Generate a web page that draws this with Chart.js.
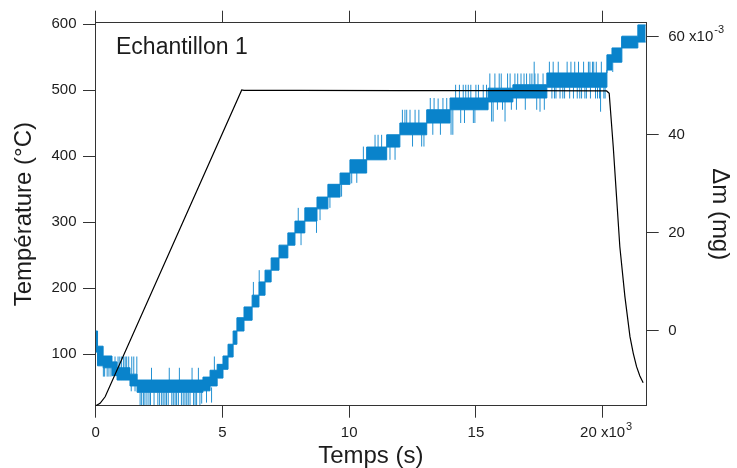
<!DOCTYPE html>
<html>
<head>
<meta charset="utf-8">
<script src="https://cdn.jsdelivr.net/npm/chart.js@4.4.0/dist/chart.umd.min.js"></script>
<style>
  html, body { margin: 0; padding: 0; background: #fff; }
  #wrap { width: 737px; height: 468px; }
</style>
</head>
<body>
<div id="wrap"><canvas id="myChart"></canvas></div>
<script>
// Tick values
const timeTicks = [0, 5, 10, 15, 20]
const tempTicks = [100, 200, 300, 400, 500, 600]
const massTicks = [0, 20, 40, 60]

// Temperature (°C) against time (x10^3 s)
const tempTime = [0, 0.17, 0.37, 5.76, 5.85, 8, 12, 16, 20.16, 20.26, 20.42, 20.55, 20.68, 20.88, 21.08, 21.21, 21.34, 21.47, 21.6]
const tempValue = [22, 25.6, 35.6, 500.5, 500, 500, 499.5, 499.5, 499, 495.5, 414.5, 338.8, 263, 187.3, 126.7, 101.5, 81.2, 67, 57]

// Mass change (x10^-3 mg): each level holds from its time to the next one
const massTime = [0, 0.07, 0.29, 0.64, 0.84, 1.35, 1.63, 4.23, 4.51, 4.79, 5.02, 5.22, 5.42, 5.57, 5.85, 6.17, 6.44, 6.68, 6.92, 7.23, 7.58, 7.86, 8.25, 8.73, 9.16, 9.64, 10.03, 10.69, 11.48, 12.0, 13.06, 13.98, 15.48, 16.46, 17.8, 20.17, 20.37, 20.76, 21.39, 21.7]
const massHigh = [0.0, -3.1, -5.1, -6.3, -7.5, -8.8, -10.0, -9.4, -8.0, -6.8, -5.1, -2.7, 0.0, 2.7, 4.9, 7.3, 10.0, 12.4, 14.9, 17.5, 20.0, 22.4, 25.1, 27.3, 29.9, 32.2, 34.9, 37.5, 40.0, 42.4, 45.1, 47.5, 49.5, 50.2, 52.6, 56.3, 57.7, 60.1, 62.4, 62.4]
const massLow = [-4.3, -7.1, -7.5, -9.1, -10.0, -11.2, -12.5, -12.2, -11.2, -9.6, -7.8, -5.3, -2.7, 0.0, 2.2, 4.9, 7.3, 10.0, 12.4, 14.9, 17.5, 20.0, 22.4, 24.9, 27.3, 29.9, 32.2, 34.9, 37.5, 40.0, 42.4, 45.1, 46.7, 47.5, 49.7, 53.2, 54.8, 57.7, 58.9, 58.9]

// Noise spikes on the mass signal: time, bottom, top
const spikeTime = [
  0.30, 0.35, 0.45, 0.52, 0.60, 0.70, 0.76, 0.88, 0.95, 1.02, 1.10, 1.16, 1.22, 1.30, 1.40, 1.42, 1.50, 1.55, 1.62,
  1.75, 1.81, 1.88, 1.94, 2.02, 2.10, 2.16, 2.20, 2.30, 2.45, 2.52, 2.60, 2.66, 2.73, 2.79, 2.86, 2.90, 3.00, 3.06,
  3.13, 3.19, 3.26, 3.30, 3.38, 3.45, 3.52, 3.59, 3.65, 3.72, 3.80, 3.86, 3.92, 3.98, 4.05, 4.11, 4.18, 4.37, 4.57, 4.68,
  6.22, 6.45, 7.99, 8.10, 8.71, 8.85, 9.24, 9.70, 10.10, 10.30, 10.56, 11.02, 11.14, 11.28, 11.61, 11.81,
  12.10, 12.20, 12.27, 12.40, 12.50, 12.60, 12.75, 12.86, 12.95, 13.20, 13.30, 13.35, 13.51, 13.60, 13.70, 13.85,
  14.02, 14.09, 14.20, 14.35, 14.40, 14.50, 14.55, 14.60, 14.70, 14.80, 14.90, 14.96, 15.00, 15.10, 15.29, 15.42,
  15.55, 15.62, 15.68, 15.75, 15.85, 15.92, 16.00, 16.05, 16.15, 16.25, 16.35, 16.40, 16.54, 16.60, 16.65, 16.78,
  16.90, 16.95, 17.00, 17.13, 17.21, 17.30, 17.33, 17.40, 17.45, 17.53, 17.65, 17.70,
  17.90, 18.00, 18.05, 18.10, 18.16, 18.25, 18.32, 18.43, 18.50, 18.60, 18.70, 18.75, 18.85, 18.90, 19.00,
  19.05, 19.10, 19.17, 19.25, 19.30, 19.36, 19.44, 19.50, 19.52, 19.60, 19.65, 19.72, 19.75, 19.80, 19.88,
  19.92, 19.95, 20.05, 20.10, 20.40, 20.75]
const spikeLow = [
  -9.3, -9.3, -9.3, -9.3, -9.3, -9.1, -7.5, -10.0, -10.0, -10.0, -10.0, -10.0, -10.0, -10.0, -12.3, -8.8, -8.8, -12.3, -10.0,
  -15.1, -15.1, -15.1, -15.1, -15.1, -15.1, -15.1, -10.0, -15.1, -15.1, -15.1, -15.1, -15.1, -15.1, -15.1, -15.1, -10.0, -15.1, -15.1,
  -15.1, -15.1, -15.1, -10.0, -15.1, -15.1, -15.1, -15.1, -15.1, -15.1, -10.0, -15.1, -15.1, -15.1, -10.0, -15.1, -14.8, -14.6, -14.6, -8.0,
  7.3, 10.0, 22.4, 17.5, 20.0, 22.6, 25.1, 27.4, 30.1, 30.2, 34.9, 37.5, 37.5, 37.5, 34.9, 34.9,
  42.4, 42.4, 42.4, 42.4, 37.6, 42.4, 42.4, 37.6, 37.6, 45.1, 40.0, 45.1, 45.1, 40.0, 45.1, 45.1,
  40.0, 40.0, 47.5, 47.5, 42.4, 47.5, 42.4, 47.5, 47.5, 47.5, 42.4, 42.4, 47.5, 47.5, 47.5, 47.5,
  49.5, 42.7, 42.7, 49.5, 45.1, 49.5, 49.5, 45.1, 42.7, 49.5, 49.5, 45.1, 50.2, 45.1, 50.2, 50.2,
  50.2, 45.1, 50.2, 50.2, 50.2, 50.2, 50.2, 45.1, 50.2, 44.7, 50.2, 45.1,
  52.6, 47.4, 52.6, 47.4, 47.4, 52.6, 47.4, 47.4, 47.4, 52.6, 47.4, 52.6, 47.4, 52.6, 47.4,
  52.6, 47.4, 47.4, 52.6, 47.4, 47.4, 52.6, 52.6, 47.4, 52.6, 52.6, 47.4, 52.6, 47.4, 47.4,
  44.7, 52.6, 47.4, 47.4, 52.8, 57.7]
const spikeHigh = [
  -7.5, -7.5, -7.5, -7.5, -7.5, -6.3, -5.2, -5.2, -5.2, -5.2, -5.2, -5.2, -5.2, -5.2, -11.2, -5.2, -5.2, -11.2, -5.2,
  -12.5, -12.5, -12.5, -12.5, -12.5, -12.5, -12.5, -7.5, -12.5, -12.5, -12.5, -12.5, -12.5, -12.5, -12.5, -12.5, -7.5, -12.5, -12.5,
  -12.5, -12.5, -12.5, -7.5, -12.5, -12.5, -12.5, -12.5, -12.5, -12.5, -7.5, -12.5, -12.5, -12.5, -7.5, -12.5, -12.5, -11.5, -11.5, -5.2,
  10.0, 12.4, 25.1, 20.0, 22.4, 24.9, 27.3, 29.9, 32.2, 32.2, 37.6, 40.0, 40.0, 40.0, 37.5, 37.5,
  45.1, 45.1, 45.1, 45.1, 40.0, 45.1, 45.1, 40.0, 40.0, 47.5, 42.4, 47.5, 47.4, 42.4, 47.5, 47.5,
  45.1, 45.1, 50.2, 50.2, 45.1, 50.2, 45.1, 50.2, 50.2, 50.2, 45.1, 45.1, 50.2, 50.2, 50.2, 50.2,
  52.5, 46.7, 46.7, 52.5, 46.7, 52.5, 52.5, 46.7, 46.7, 52.5, 52.5, 47.5, 52.5, 47.5, 52.5, 52.5,
  52.5, 47.5, 52.5, 52.5, 52.5, 54.9, 52.5, 47.5, 52.5, 47.5, 52.5, 47.5,
  54.9, 49.7, 54.9, 49.7, 49.7, 54.9, 49.7, 49.7, 49.7, 54.9, 49.7, 54.9, 49.7, 54.9, 49.7,
  54.9, 49.7, 49.7, 54.9, 49.7, 49.7, 54.9, 54.9, 49.7, 54.9, 54.9, 49.7, 54.9, 49.7, 49.7,
  49.7, 54.9, 49.7, 49.7, 54.8, 60.0]

const fontFamily = '"Liberation Sans", Arial, sans-serif'
const textColor = '#1c1c1c'
const axisColor = '#333333'
const blue = '#0983cb'

const tempData = tempTime.map((t, i) => ({ x: t, y: tempValue[i] }))
const highData = massTime.map((t, i) => ({ x: t, y: massHigh[i] }))
const lowData = massTime.map((t, i) => ({ x: t, y: massLow[i] }))
const spikeData = []
spikeTime.forEach((t, i) => {
  spikeData.push({ x: t, y: spikeLow[i] }, { x: t, y: spikeHigh[i] }, { x: t, y: null })
})

// Superscripts on tick labels and the sample name inside the plot
const annotations = {
  id: 'annotations',
  afterDraw(chart) {
    const { ctx, chartArea, scales } = chart
    ctx.save()
    ctx.fillStyle = textColor
    ctx.font = '23px ' + fontFamily
    ctx.textBaseline = 'alphabetic'
    ctx.textAlign = 'left'
    ctx.fillText('Echantillon 1', chartArea.left + 21, chartArea.top + 31)

    ctx.font = '15px ' + fontFamily
    const wx = ctx.measureText('20 x10').width
    const wy = ctx.measureText('60 x10').width
    ctx.font = '11px ' + fontFamily
    ctx.textBaseline = 'middle'
    const xs = scales.x
    const labelY = xs.top + 12 + 6.5 + 9
    ctx.fillText('3', xs.getPixelForValue(20) + wx / 2 + 1, labelY - 6)
    const ys = scales.y2
    ctx.fillText('-3', ys.left + 12 + 9.5 + wy + 1, ys.getPixelForValue(60) - 7)
    ctx.restore()
  }
}

const axisBase = {
  grid: { drawOnChartArea: false, tickLength: 12, color: axisColor, lineWidth: 1 },
  border: { color: axisColor, width: 1 }
}

new Chart(document.getElementById('myChart'), {
  type: 'line',
  data: {
    datasets: [
      {
        label: 'Température',
        data: tempData,
        yAxisID: 'y',
        borderColor: '#000000',
        borderWidth: 1.2,
        pointRadius: 0,
        tension: 0,
        fill: false
      },
      {
        label: 'Δm haut',
        data: highData,
        yAxisID: 'y2',
        stepped: true,
        borderColor: blue,
        borderWidth: 1,
        pointRadius: 0,
        fill: false
      },
      {
        label: 'Δm bas',
        data: lowData,
        yAxisID: 'y2',
        stepped: true,
        borderColor: blue,
        backgroundColor: blue,
        borderWidth: 1,
        pointRadius: 0,
        fill: '-1'
      },
      {
        label: 'bruit',
        data: spikeData,
        yAxisID: 'y2',
        borderColor: '#2290d2',
        borderWidth: 1,
        pointRadius: 0,
        spanGaps: false,
        fill: false
      }
    ]
  },
  options: {
    responsive: true,
    maintainAspectRatio: false,
    animation: false,
    devicePixelRatio: 1,
    layout: { padding: 0 },
    plugins: {
      legend: { display: false },
      tooltip: { enabled: false }
    },
    scales: {
      x: {
        ...axisBase,
        type: 'linear',
        position: 'bottom',
        min: -0.03,
        max: 21.74,
        offset: false,
        afterBuildTicks: s => { s.ticks = timeTicks.map(v => ({ value: v })) },
        afterFit: s => { s.height = 62.3 },
        ticks: {
          color: textColor,
          font: { family: fontFamily, size: 15 },
          padding: 6.5,
          maxRotation: 0,
          autoSkip: false,
          callback: v => (v === 20 ? '20 x10' : String(v))
        },
        title: {
          display: true,
          text: 'Temps (s)',
          color: textColor,
          font: { family: fontFamily, size: 24, lineHeight: 1 },
          padding: { top: 0, bottom: 0 }
        }
      },
      xTop: {
        ...axisBase,
        type: 'linear',
        position: 'top',
        min: -0.03,
        max: 21.74,
        offset: false,
        afterBuildTicks: s => { s.ticks = timeTicks.map(v => ({ value: v })) },
        afterFit: s => { s.height = 22.7 },
        ticks: { display: false }
      },
      y: {
        ...axisBase,
        type: 'linear',
        position: 'left',
        min: 22.1,
        max: 602.4,
        afterBuildTicks: s => { s.ticks = tempTicks.map(v => ({ value: v })) },
        afterFit: s => { s.width = 95 },
        ticks: {
          color: textColor,
          font: { family: fontFamily, size: 15 },
          padding: 6.5,
          autoSkip: false
        },
        title: {
          display: true,
          text: 'Température (°C)',
          color: textColor,
          font: { family: fontFamily, size: 24, lineHeight: 1 },
          padding: { top: 12, bottom: 0 }
        }
      },
      y2: {
        ...axisBase,
        type: 'linear',
        position: 'right',
        min: -15.23,
        max: 62.85,
        afterBuildTicks: s => { s.ticks = massTicks.map(v => ({ value: v })) },
        afterFit: s => { s.width = 90.3 },
        ticks: {
          color: textColor,
          font: { family: fontFamily, size: 15 },
          padding: 9.5,
          autoSkip: false,
          callback: v => (v === 60 ? '60 x10' : String(v))
        },
        title: {
          display: true,
          text: 'Δm (mg)',
          color: textColor,
          font: { family: fontFamily, size: 24, lineHeight: 1 },
          padding: { top: 5, bottom: 0 }
        }
      }
    }
  },
  plugins: [annotations]
})
</script>
</body>
</html>
